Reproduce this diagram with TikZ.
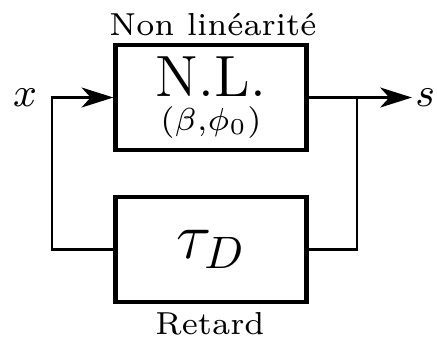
\documentclass[tikz,border=0pt]{standalone}
\usepackage{tikz}
\usepackage{bm}
\usepackage{xcolor}
\usetikzlibrary{arrows.meta}

\tikzset{
  block/.style={draw,line width=0.95,rectangle,minimum width=42pt,minimum height=23pt,inner sep=0,align=center},
  wire/.style={line width=0.45},
  tip/.style={-{Stealth[length=7pt,width=4.4pt,inset=2pt]}}
}

\begin{document}
\begin{tikzpicture}[line width=0.45,scale=0.0773]
			\useasboundingbox (0,0) rectangle (43.7,-34.3);
			\node[block] (nl) at (21.1,-9.75) {\fontsize{12.8}{15}\selectfont N.L.\\[-4.6pt]\fontsize{6.6}{8}\selectfont$(\beta{,}\phi_0)$};
			\node[block] (tau) at (21.1,-24.95) {\Large$\tau_D$};
			\node[anchor=base] (nltitle) at (21.3,-3.5) {\scriptsize Non linéarité};
			\node[anchor=base] (tautitle) at (21.0,-33.5) {\scriptsize Retard};
			\coordinate (in) at (5.2,-9.75);
			\coordinate (br) at (35.7,-9.75);
			\coordinate (out) at (41.2,-9.75);
			\node[anchor=east,inner sep=0] (xlab) at (3.8,-9.75) {\small$x$};
			\node[anchor=west,inner sep=0.5pt] (slab) at (out) {\small$s$};
			\draw[wire,tip] (tau.west) -| (in) -- (nl.west);
			\draw[wire,tip] (nl.east) -- (out);
			\draw[wire] (br) |- (tau.east);
		\end{tikzpicture}
\end{document}
